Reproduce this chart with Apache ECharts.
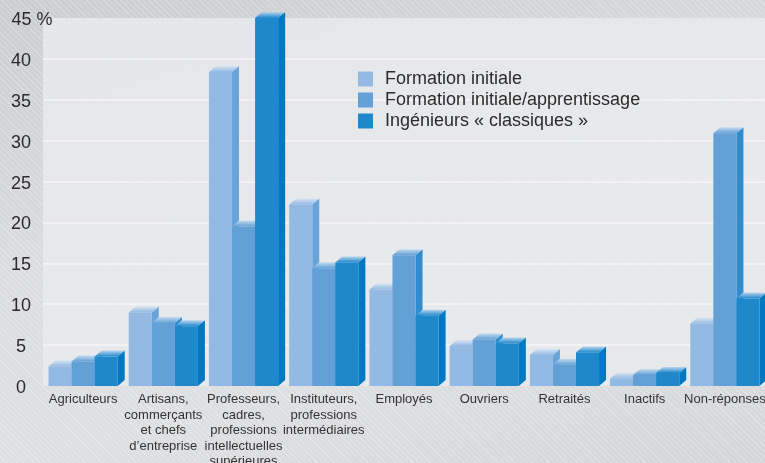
<!DOCTYPE html>
<html><head><meta charset="utf-8">
<script src="https://cdn.jsdelivr.net/npm/echarts@6/dist/echarts.min.js"></script>
<style>
html,body{margin:0;padding:0;}
body{width:765px;height:463px;overflow:hidden;
background:
repeating-linear-gradient(45deg, rgba(255,255,255,0.22) 0px, rgba(255,255,255,0.22) 1px, rgba(255,255,255,0) 1px, rgba(255,255,255,0) 4px),
linear-gradient(165deg, #cbcdd0 0%, #dcdde0 45%, #dedfe1 70%, #d4d6d9 100%);}
#c{width:765px;height:463px;}
</style></head>
<body><div id="c"></div>
<script>
const categories = ['Agriculteurs', 'Artisans,\ncommerçants\net chefs\nd\u2019entreprise', 'Professeurs,\ncadres,\nprofessions\nintellectuelles\nsupérieures', 'Instituteurs,\nprofessions\nintermédiaires', 'Employés', 'Ouvriers', 'Retraités', 'Inactifs', 'Non-réponses'];
const seriesNames = ['Formation initiale', 'Formation initiale/apprentissage', 'Ingénieurs « classiques »'];
const formationInitiale = [2.4, 9.0, 38.4, 22.2, 11.8, 4.9, 3.8, 0.9, 7.6];
const apprentissage = [3.0, 7.7, 19.5, 14.4, 16.0, 5.7, 2.6, 1.35, 30.9];
const classiques = [3.6, 7.3, 45.0, 15.1, 8.6, 5.2, 4.1, 1.6, 10.7];
const yTicks = [0, 5, 10, 15, 20, 25, 30, 35, 40, 45];

const values = [formationInitiale, apprentissage, classiques];
const front = ['#94b9e3', '#62a0d6', '#1e88cb'];
const side = ['#6aa3d9', '#2f8ccf', '#0077c1'];
const topLight = ['#d6e4f3', '#c4dbef', '#b8d4ee'];

const chart = echarts.init(document.getElementById('c'), null, {renderer: 'canvas'});

function makeRender(s) {
  return function (params, api) {
    const ci = api.value(0), v = api.value(1);
    const p = api.coord([ci, v]);
    const p0 = api.coord([ci, 0]);
    const band = api.size([1, 0])[0];
    const bw = band * 0.2875;
    const dx = 7, dy = 6;
    const x = p[0] - 1.5 * bw + s * bw;
    const yt = p[1], yb = p0[1];
    return {
      type: 'group',
      children: [
        {type: 'polygon', shape: {points: [[x + bw, yt], [x + bw + dx, yt - dy], [x + bw + dx, yb - dy], [x + bw, yb]]},
         style: {fill: side[s]}},
        {type: 'polygon', shape: {points: [[x, yt], [x + dx, yt - dy], [x + bw + dx, yt - dy], [x + bw, yt]]},
         style: {fill: new echarts.graphic.LinearGradient(0, 0, 0, 1, [{offset: 0, color: topLight[s]}, {offset: 1, color: front[s]}])}},
        {type: 'rect', shape: {x: x, y: yt, width: bw, height: yb - yt},
         style: {fill: front[s]}}
      ]
    };
  };
}

const series = seriesNames.map((name, s) => ({
  name: name,
  type: 'custom',
  renderItem: makeRender(s),
  itemStyle: {color: front[s]},
  encode: {x: 0, y: 1},
  clip: false,
  data: values[s].map((v, i) => [i, v])
}));

chart.setOption({
  animation: false,
  backgroundColor: 'transparent',
  textStyle: {fontFamily: 'Liberation Sans, Arial, sans-serif'},
  grid: {left: 43, right: 0, top: 18, bottom: 77, outerBoundsMode: 'none', containLabel: false, show: true, backgroundColor: 'rgba(234,235,237,0.8)', borderWidth: 0},
  legend: {
    orient: 'vertical', left: 358, top: 70, padding: 0,
    itemWidth: 15, itemHeight: 15, itemGap: 3, icon: 'rect',
    textStyle: {fontSize: 18, color: '#2b2b2b', padding: [0, 0, 0, 7], fontFamily: 'Liberation Sans, Arial, sans-serif'},
    data: seriesNames
  },
  xAxis: {
    type: 'category', data: categories,
    axisLine: {show: false}, axisTick: {show: false},
    axisLabel: {interval: 0, fontSize: 13, lineHeight: 15.5, color: '#333', margin: 6, fontFamily: 'Liberation Sans, Arial, sans-serif'}
  },
  yAxis: {
    type: 'value', min: yTicks[0], max: yTicks[yTicks.length - 1], interval: 5,
    axisLine: {show: false}, axisTick: {show: false},
    splitLine: {showMinLine: false, showMaxLine: false, lineStyle: {color: '#f6f6f7', width: 1.6}},
    axisLabel: {
      fontSize: 18, color: '#2b2b2b', align: 'center', margin: 22, padding: [4, 0, 0, 0],
      fontFamily: 'Liberation Sans, Arial, sans-serif',
      formatter: v => v === 45 ? '{p|45 %}' : String(v),
      rich: {p: {fontSize: 18, color: '#2b2b2b', padding: [0, 0, 0, 22]}}
    }
  },
  series: series
});
</script></body></html>
